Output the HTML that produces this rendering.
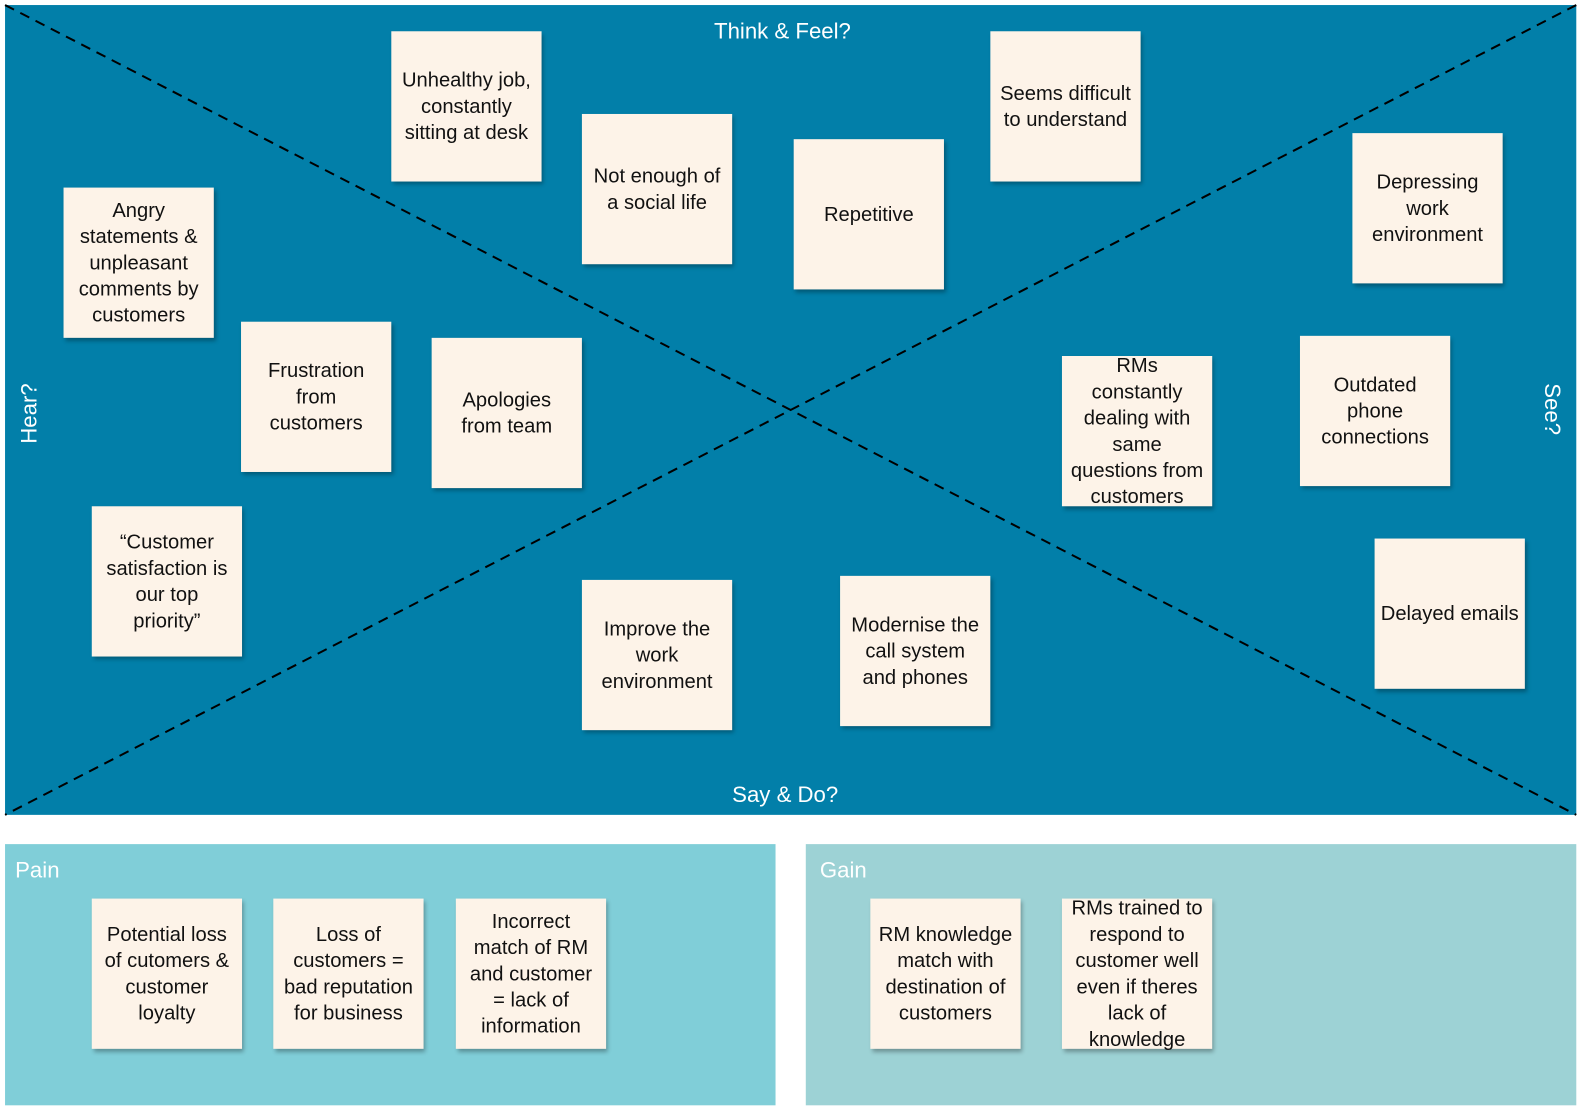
<!DOCTYPE html>
<html><head><meta charset="utf-8"><style>
body{margin:0;width:1580px;height:1108px;background:#fff;position:relative;overflow:hidden;font-family:"Liberation Sans",sans-serif}
#w{position:absolute;left:0;top:0;width:1580px;height:1108px;transform:scale(1.0085);transform-origin:0 0}
.p{position:absolute}
.n{position:absolute;width:149px;height:149px;background:#fdf3e8;box-shadow:2px 3px 4px rgba(0,0,0,.3);display:flex;align-items:center;justify-content:center;text-align:center;font-size:20px;line-height:26px;color:#111}
.l{position:absolute;color:#fff;font-size:22px}
</style></head><body><div id="w">
<div class="p" style="left:5px;top:5px;width:1558px;height:803px;background:#027fa9"></div>
<svg class="p" style="left:0;top:0" width="1580" height="1108"><line x1="5" y1="5" x2="1563" y2="808" stroke="#000" stroke-width="2" stroke-dasharray="10,7"/><line x1="1563" y1="5" x2="5" y2="808" stroke="#000" stroke-width="2" stroke-dasharray="10,7"/></svg>
<div class="p" style="left:5px;top:837px;width:764px;height:259px;background:#80ced8"></div>
<div class="p" style="left:799px;top:837px;width:764px;height:259px;background:#9dd2d5"></div>
<div class="l" style="left:708px;top:18px">Think &amp; Feel?</div>
<div class="l" style="left:726px;top:775px">Say &amp; Do?</div>
<div class="l" style="left:16px;top:440px;transform:rotate(-90deg);transform-origin:0 0">Hear?</div>
<div class="l" style="left:1552px;top:380px;transform:rotate(90deg);transform-origin:0 0">See?</div>
<div class="l" style="left:15px;top:850px">Pain</div>
<div class="l" style="left:813px;top:850px">Gain</div>
<div class="n" style="left:388px;top:31px">Unhealthy job,<br>constantly<br>sitting at desk</div>
<div class="n" style="left:577px;top:113px">Not enough of<br>a social life</div>
<div class="n" style="left:787px;top:138px">Repetitive</div>
<div class="n" style="left:982px;top:31px">Seems difficult<br>to understand</div>
<div class="n" style="left:1341px;top:132px">Depressing<br>work<br>environment</div>
<div class="n" style="left:63px;top:186px">Angry<br>statements &amp;<br>unpleasant<br>comments by<br>customers</div>
<div class="n" style="left:239px;top:319px">Frustration<br>from<br>customers</div>
<div class="n" style="left:428px;top:335px">Apologies<br>from team</div>
<div class="n" style="left:1053px;top:353px">RMs<br>constantly<br>dealing with<br>same<br>questions from<br>customers</div>
<div class="n" style="left:1289px;top:333px">Outdated<br>phone<br>connections</div>
<div class="n" style="left:91px;top:502px">“Customer<br>satisfaction is<br>our top<br>priority”</div>
<div class="n" style="left:577px;top:575px">Improve the<br>work<br>environment</div>
<div class="n" style="left:833px;top:571px">Modernise the<br>call system<br>and phones</div>
<div class="n" style="left:1363px;top:534px">Delayed emails</div>
<div class="n" style="left:91px;top:891px">Potential loss<br>of cutomers &amp;<br>customer<br>loyalty</div>
<div class="n" style="left:271px;top:891px">Loss of<br>customers =<br>bad reputation<br>for business</div>
<div class="n" style="left:452px;top:891px">Incorrect<br>match of RM<br>and customer<br>= lack of<br>information</div>
<div class="n" style="left:863px;top:891px">RM knowledge<br>match with<br>destination of<br>customers</div>
<div class="n" style="left:1053px;top:891px">RMs trained to<br>respond to<br>customer well<br>even if theres<br>lack of<br>knowledge</div>
</div></body></html>
